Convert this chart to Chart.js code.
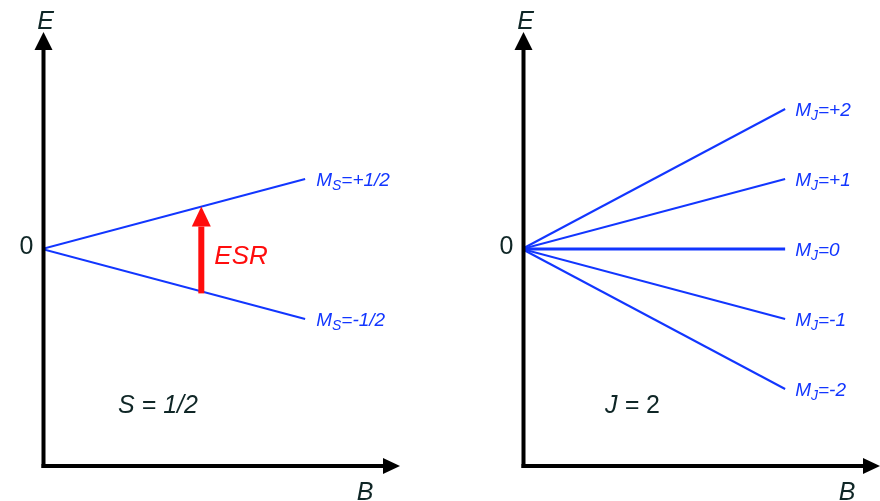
<!DOCTYPE html>
<html lang="en">
<head>
<meta charset="UTF-8">
<title>Zeeman splitting</title>
<script src="https://cdn.jsdelivr.net/npm/chart.js"></script>
<style>
  body { margin: 0; background: #fff; }
  #wrap { position: relative; width: 880px; height: 501px; overflow: hidden; }
  canvas { position: absolute; top: 0; }
  #links { left: 0; }
  #rechts { left: 440px; }
</style>
</head>
<body>
<div id="wrap">
  <canvas id="links" width="440" height="501"></canvas>
  <canvas id="rechts" width="440" height="501"></canvas>
</div>
<script>
// magnetic field range of the drawn lines
const bField = [0, 7.35];
// S = 1/2 levels
const msLabels = ['+1/2', '-1/2'];
const msEnergy = [1.0, -1.0];
// J = 2 levels
const mjLabels = ['+2', '+1', '0', '-1', '-2'];
const mjEnergy = [2.0, 1.0, 0, -1.0, -2.0];
// where the ESR transition is drawn
const esrB = 4.45;

const blau = '#1236ff';
const tinte = '#0f2626';

function levelSets(energies, labels) {
  return energies.map(function(e, i) {
    return {
      label: labels[i],
      data: [{ x: bField[0], y: 0 }, { x: bField[1], y: e }],
      borderColor: blau,
      borderWidth: e === 0 ? 3 : 2,
      pointRadius: 0,
      showLine: true
    };
  });
}

function pfeil(ctx, x1, y1, x2, y2, breite, kopfL, kopfB, farbe) {
  const w = Math.atan2(y2 - y1, x2 - x1);
  const bx = x2 - kopfL * Math.cos(w), by = y2 - kopfL * Math.sin(w);
  ctx.save();
  ctx.strokeStyle = farbe;
  ctx.fillStyle = farbe;
  ctx.lineWidth = breite;
  ctx.beginPath();
  ctx.moveTo(x1, y1);
  ctx.lineTo(bx, by);
  ctx.stroke();
  ctx.beginPath();
  ctx.moveTo(x2, y2);
  ctx.lineTo(bx + kopfB / 2 * Math.sin(w), by - kopfB / 2 * Math.cos(w));
  ctx.lineTo(bx - kopfB / 2 * Math.sin(w), by + kopfB / 2 * Math.cos(w));
  ctx.closePath();
  ctx.fill();
  ctx.restore();
}

// "M" with subscript, then "=value"
function mLabel(ctx, x, y, sub, wert) {
  ctx.save();
  ctx.fillStyle = blau;
  ctx.textBaseline = 'alphabetic';
  ctx.font = 'italic 19px "Liberation Sans", Arial, sans-serif';
  ctx.fillText('M', x, y);
  let w = ctx.measureText('M').width;
  ctx.font = 'italic 14px "Liberation Sans", Arial, sans-serif';
  ctx.fillText(sub, x + w, y + 4);
  w += ctx.measureText(sub).width;
  ctx.font = 'italic 19px "Liberation Sans", Arial, sans-serif';
  ctx.fillText('=' + wert, x + w, y);
  ctx.restore();
}

const achsen = {
  id: 'achsen',
  afterDatasetsDraw(chart, args, opts) {
    const ctx = chart.ctx;
    const a = chart.chartArea;
    const x0 = a.left + 1.5, y0 = a.bottom;
    ctx.save();
    ctx.lineCap = 'butt';
    pfeil(ctx, x0, y0 + 2, x0, a.top, 4, 18, 18, '#000');
    pfeil(ctx, x0 - 2, y0, a.right, y0, 4, 17, 16, '#000');

    ctx.fillStyle = tinte;
    ctx.font = 'italic 25px "Liberation Sans", Arial, sans-serif';
    ctx.textAlign = 'center';
    ctx.fillText('E', x0 + 2, 29);
    ctx.fillText('B', opts.bX, 500);
    ctx.font = '25px "Liberation Sans", Arial, sans-serif';
    ctx.textAlign = 'right';
    ctx.textBaseline = 'middle';
    ctx.fillText('0', x0 - 10, chart.scales.y.getPixelForValue(0) - 2);
    ctx.textBaseline = 'alphabetic';
    ctx.textAlign = 'left';
    ctx.font = 'italic 25px "Liberation Sans", Arial, sans-serif';
    ctx.fillText(opts.titel, opts.titelX, 413);
    if (opts.titelGerade) {
      const tw = ctx.measureText(opts.titel).width;
      ctx.font = '25px "Liberation Sans", Arial, sans-serif';
      ctx.fillText(opts.titelGerade, opts.titelX + tw, 413);
    }

    chart.data.datasets.forEach(function(ds) {
      const p = ds.data[ds.data.length - 1];
      const px = chart.scales.x.getPixelForValue(p.x);
      const py = chart.scales.y.getPixelForValue(p.y);
      mLabel(ctx, px + opts.abstand, py + 7, opts.sub, ds.label);
    });

    if (opts.esr) {
      const xs = chart.scales.x.getPixelForValue(esrB);
      const f = esrB / bField[1];
      const yo = chart.scales.y.getPixelForValue(msEnergy[0] * f);
      const yu = chart.scales.y.getPixelForValue(msEnergy[1] * f);
      pfeil(ctx, xs, yu + 2, xs, yo, 6, 20, 19, '#ff0d0d');
      ctx.fillStyle = '#ff0d0d';
      ctx.font = 'italic 26px "Liberation Sans", Arial, sans-serif';
      ctx.fillText('ESR', xs + 13, 264);
    }
    ctx.restore();
  }
};

function baueChart(id, sets, pad, opts) {
  return new Chart(document.getElementById(id), {
    type: 'scatter',
    data: { datasets: sets },
    options: {
      responsive: false,
      animation: false,
      layout: { padding: pad },
      plugins: {
        legend: { display: false },
        tooltip: { enabled: false },
        achsen: opts
      },
      scales: {
        x: { type: 'linear', min: 0, max: 10, display: false },
        y: { type: 'linear', min: -3.1, max: 3.1, display: false }
      }
    },
    plugins: [achsen]
  });
}

baueChart('links', levelSets(msEnergy, msLabels),
  { left: 42, right: 40, top: 32, bottom: 35 },
  { titel: 'S = 1/2', titelX: 118, bX: 365, sub: 'S', abstand: 11, esr: true });

baueChart('rechts', levelSets(mjEnergy, mjLabels),
  { left: 82, right: 0, top: 32, bottom: 35 },
  { titel: 'J = ', titelGerade: '2', titelX: 165, bX: 407, sub: 'J', abstand: 10, esr: false });
</script>
</body>
</html>
